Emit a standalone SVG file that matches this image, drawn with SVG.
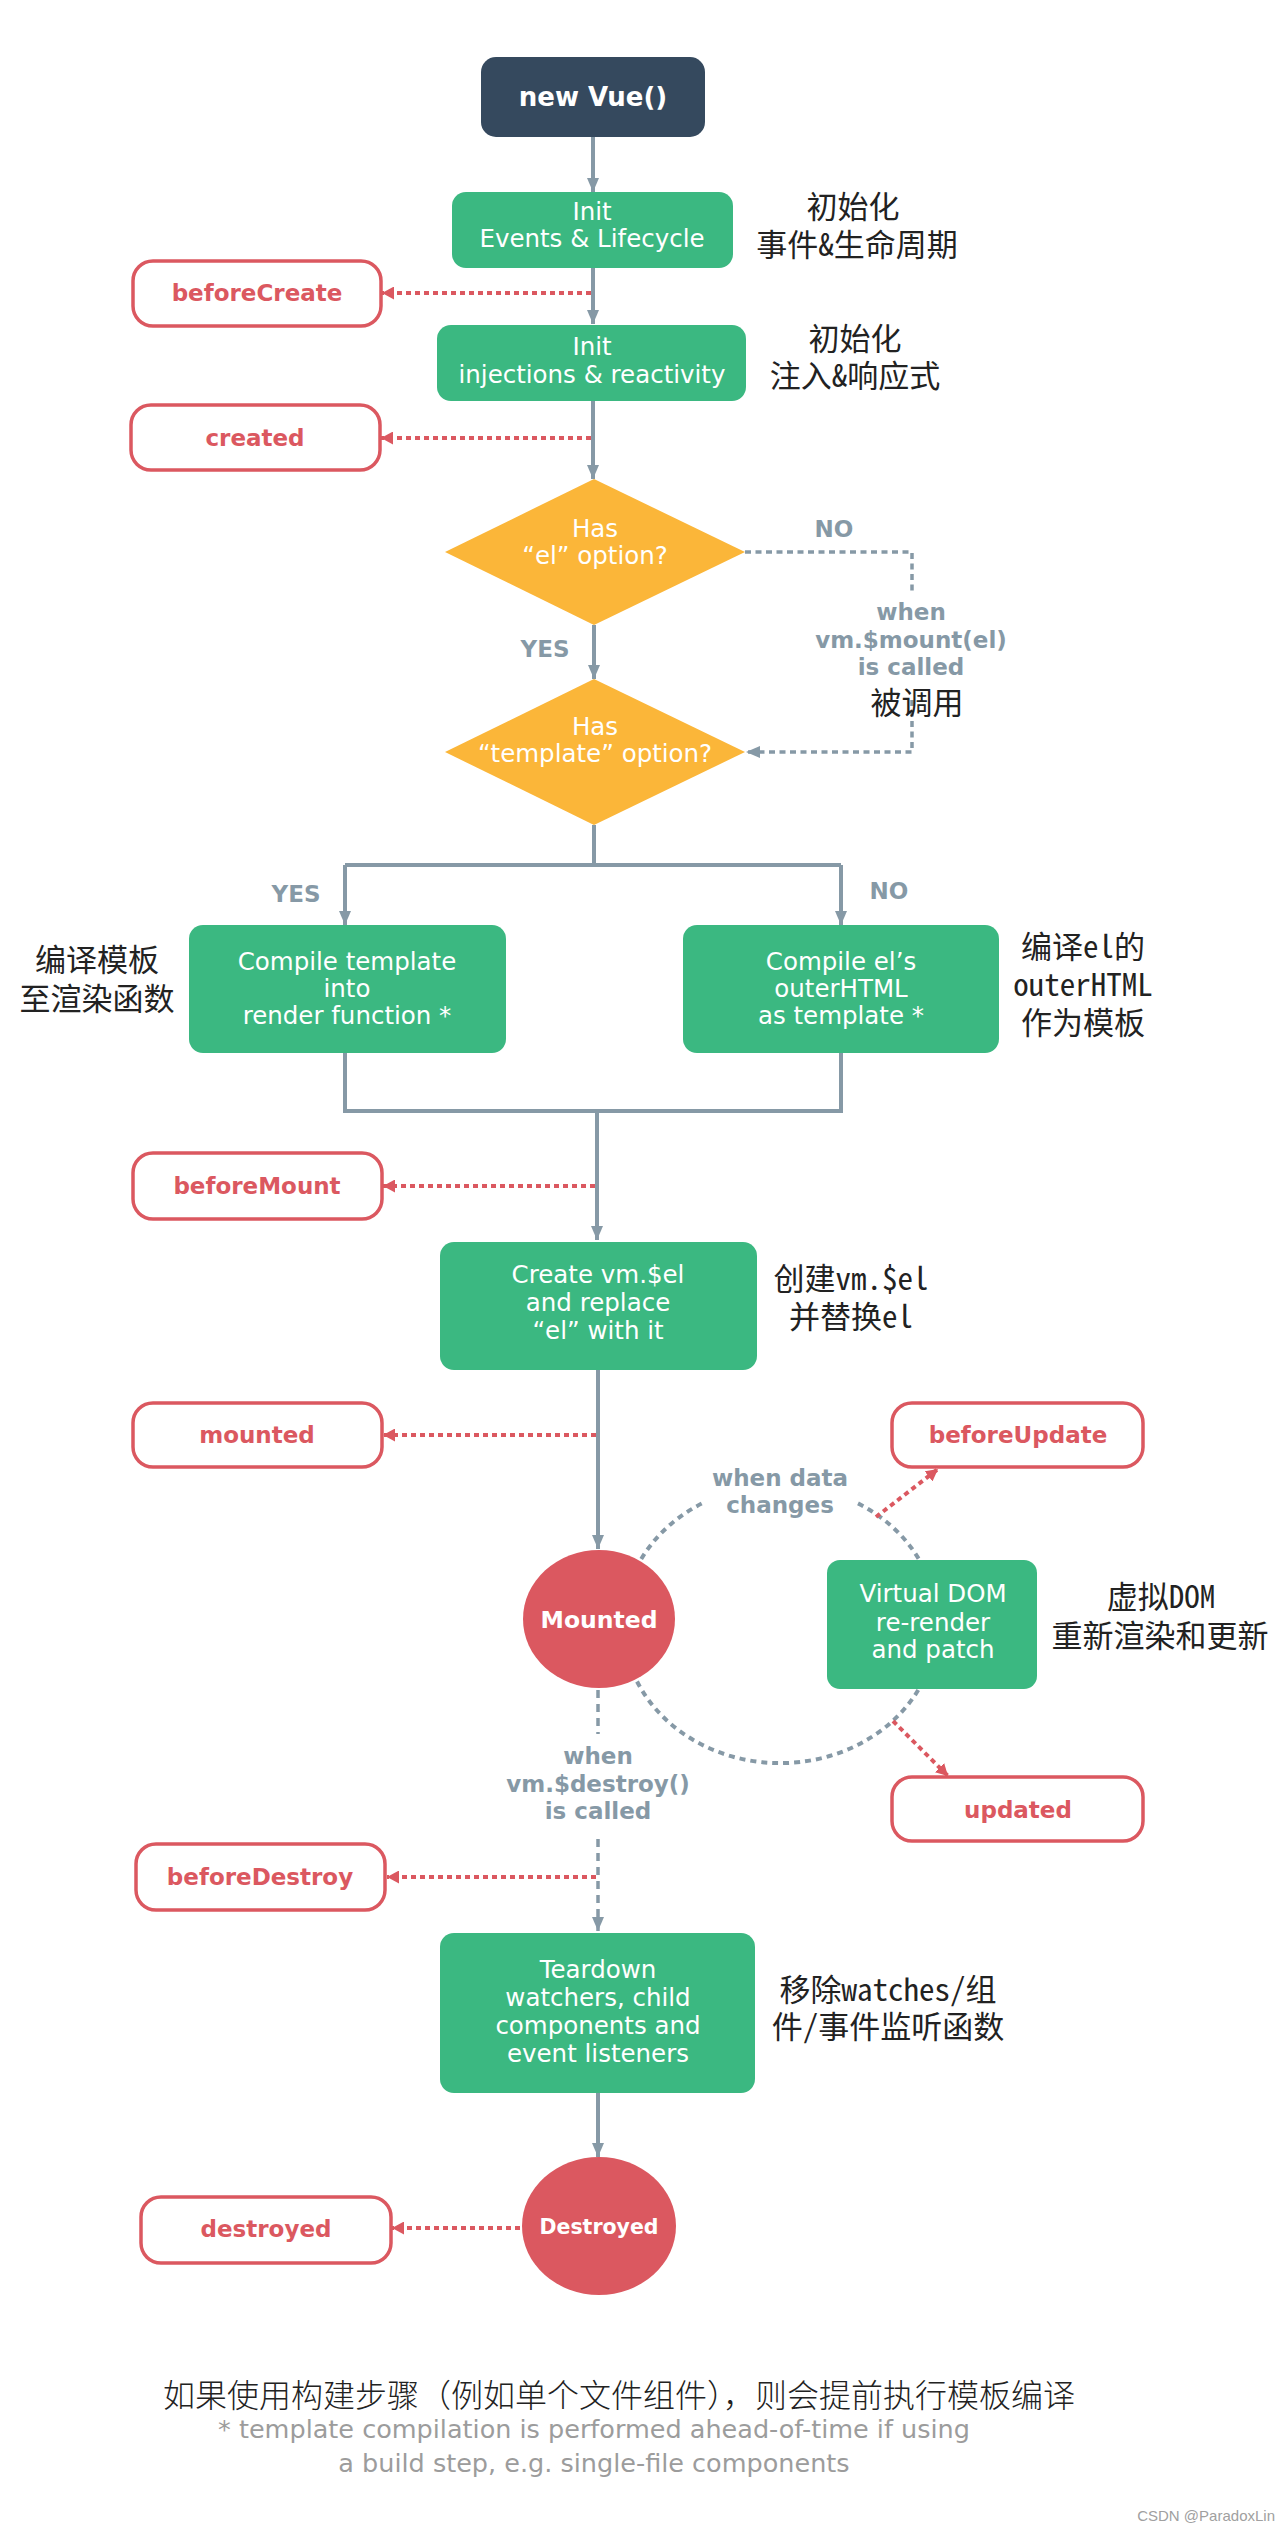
<svg xmlns="http://www.w3.org/2000/svg" width="1283" height="2526" viewBox="0 0 1283 2526">
<style>
.lbl{font-family:"DejaVu Sans","Liberation Sans",sans-serif;font-size:24.5px;fill:#ffffff;text-anchor:middle}
.hook{font-family:"DejaVu Sans","Liberation Sans",sans-serif;font-size:23px;font-weight:bold;fill:#db5860;text-anchor:middle}
.gl{font-family:"DejaVu Sans","Liberation Sans",sans-serif;font-size:23px;font-weight:bold;fill:#8699a6;text-anchor:middle}
.cn{font-family:"Noto Sans Mono CJK SC","Noto Sans CJK SC",sans-serif;font-size:31px;font-weight:300;fill:#222222;text-anchor:middle}
.foot{font-family:"DejaVu Sans","Liberation Sans",sans-serif;font-size:25.5px;fill:#9c9c9c;text-anchor:middle}
.green{fill:#3bb881}
.hookbox{fill:#ffffff;stroke:#db5860;stroke-width:3.5}
.solid{fill:none;stroke:#8699a6;stroke-width:4}
.gdot{fill:none;stroke:#8699a6;stroke-width:3.5;stroke-dasharray:6 4.5}
.gdash{fill:none;stroke:#8699a6;stroke-width:3.5;stroke-dasharray:8 6}
.loop{fill:none;stroke:#8699a6;stroke-width:4;stroke-dasharray:6 5}
.rdot{fill:none;stroke:#db5860;stroke-width:4;stroke-dasharray:5 4}
</style>
<defs>
<marker id="ag" viewBox="0 0 14 12" refX="14" refY="6" markerWidth="14" markerHeight="12" markerUnits="userSpaceOnUse" orient="auto"><path d="M0,0 L14,6 L0,12 z" fill="#8699a6"/></marker>
<marker id="ar" viewBox="0 0 12 13" refX="12" refY="6.5" markerWidth="12" markerHeight="13" markerUnits="userSpaceOnUse" orient="auto"><path d="M0,0 L12,6.5 L0,13 z" fill="#db5860"/></marker>
</defs>
<rect width="1283" height="2526" fill="#ffffff"/>

<g id="connectors">
<path class="solid" d="M593,137 V192" marker-end="url(#ag)"/>
<path class="solid" d="M593,268 V324" marker-end="url(#ag)"/>
<path class="solid" d="M593,401 V479" marker-end="url(#ag)"/>
<path class="solid" d="M594,625 V679" marker-end="url(#ag)"/>
<path class="solid" d="M594,825 V865"/>
<path class="solid" d="M345,865 H841"/>
<path class="solid" d="M345,865 V925" marker-end="url(#ag)"/>
<path class="solid" d="M841,865 V925" marker-end="url(#ag)"/>
<path class="solid" d="M345,1053 V1111 H841 V1053"/>
<path class="solid" d="M597,1111 V1240" marker-end="url(#ag)"/>
<path class="solid" d="M598,1370 V1549" marker-end="url(#ag)"/>
<path class="solid" d="M598,2093 V2157" marker-end="url(#ag)"/>
<path class="gdot" d="M745,552 H912 V592"/>
<path class="gdot" d="M912,700 V752 H746" marker-end="url(#ag)"/>
<path class="gdash" d="M598,1690 V1734"/>
<path class="gdash" d="M598,1839 V1931" marker-end="url(#ag)"/>
<path class="loop" d="M625.4,1599.8 A157,139 0 0 1 702,1503.4"/>
<path class="loop" d="M858,1503.4 A157,139 0 0 1 931.7,1588"/>
<path class="loop" d="M931.7,1660 A157,139 0 0 1 625.4,1648.2"/>
<path class="rdot" d="M876,1517 L938,1469" marker-end="url(#ar)"/>
<path class="rdot" d="M893,1721 L948,1776" marker-end="url(#ar)"/>
<path class="rdot" d="M591,293 H382" marker-end="url(#ar)"/>
<path class="rdot" d="M591,438 H381" marker-end="url(#ar)"/>
<path class="rdot" d="M595,1186 H383" marker-end="url(#ar)"/>
<path class="rdot" d="M596,1435 H383" marker-end="url(#ar)"/>
<path class="rdot" d="M596,1877 H387" marker-end="url(#ar)"/>
<path class="rdot" d="M520,2228 H392" marker-end="url(#ar)"/>
</g>

<g id="new-vue">
<rect x="481" y="57" width="224" height="80" rx="15" fill="#35495e"/>
<text class="lbl" x="593" y="106" style="font-size:26px;font-weight:bold">new Vue()</text>
</g>

<g id="init-events">
<rect class="green" x="452" y="192" width="281" height="76" rx="14"/>
<text class="lbl" x="592" y="220">Init<tspan x="592" dy="27">Events &amp; Lifecycle</tspan></text>
<text class="cn" x="853" y="218">初始化<tspan x="857" dy="38">事件&amp;生命周期</tspan></text>
</g>

<g id="beforeCreate">
<rect class="hookbox" x="133" y="261" width="248" height="65" rx="20"/>
<text class="hook" x="257" y="301">beforeCreate</text>
</g>

<g id="init-injections">
<rect class="green" x="437" y="325" width="309" height="76" rx="14"/>
<text class="lbl" x="592" y="355">Init<tspan x="592" dy="28">injections &amp; reactivity</tspan></text>
<text class="cn" x="855" y="350">初始化<tspan x="855" dy="37">注入&amp;响应式</tspan></text>
</g>

<g id="created">
<rect class="hookbox" x="131" y="405" width="249" height="65" rx="20"/>
<text class="hook" x="255" y="446">created</text>
</g>

<g id="has-el">
<polygon points="594,479 745,552 594,625 445,552" fill="#fbb639"/>
<text class="lbl" x="595" y="537">Has<tspan x="595" dy="27">“el” option?</tspan></text>
<text class="gl" x="834" y="537">NO</text>
<text class="gl" x="545" y="657">YES</text>
</g>

<g id="mount-called">
<text class="gl" x="911" y="620">when<tspan x="911" dy="28">vm.$mount(el)</tspan><tspan x="911" dy="27">is called</tspan></text>
<text class="cn" x="917" y="714">被调用</text>
</g>

<g id="has-template">
<polygon points="594,679 745,752 594,825 445,752" fill="#fbb639"/>
<text class="lbl" x="595" y="735">Has<tspan x="595" dy="27">“template” option?</tspan></text>
<text class="gl" x="296" y="902">YES</text>
<text class="gl" x="889" y="899">NO</text>
</g>

<g id="compile-template">
<rect class="green" x="189" y="925" width="317" height="128" rx="14"/>
<text class="lbl" x="347" y="970">Compile template<tspan x="347" dy="27">into</tspan><tspan x="347" dy="27">render function *</tspan></text>
<text class="cn" x="97" y="971">编译模板<tspan x="97" dy="39">至渲染函数</tspan></text>
</g>

<g id="compile-el">
<rect class="green" x="683" y="925" width="316" height="128" rx="14"/>
<text class="lbl" x="841" y="970">Compile el’s<tspan x="841" dy="27">outerHTML</tspan><tspan x="841" dy="27">as template *</tspan></text>
<text class="cn" x="1083" y="958">编译el的<tspan x="1083" dy="38">outerHTML</tspan><tspan x="1083" dy="38">作为模板</tspan></text>
</g>

<g id="beforeMount">
<rect class="hookbox" x="133" y="1153" width="249" height="66" rx="20"/>
<text class="hook" x="257" y="1194">beforeMount</text>
</g>

<g id="create-el">
<rect class="green" x="440" y="1242" width="317" height="128" rx="14"/>
<text class="lbl" x="598" y="1283">Create vm.$el<tspan x="598" dy="28">and replace</tspan><tspan x="598" dy="28">“el” with it</tspan></text>
<text class="cn" x="851" y="1290">创建vm.$el<tspan x="851" dy="38">并替换el</tspan></text>
</g>

<g id="mounted">
<rect class="hookbox" x="133" y="1403" width="249" height="64" rx="20"/>
<text class="hook" x="257" y="1443">mounted</text>
</g>

<g id="beforeUpdate">
<rect class="hookbox" x="892" y="1403" width="251" height="64" rx="20"/>
<text class="hook" x="1018" y="1443">beforeUpdate</text>
</g>

<g id="data-changes">
<text class="gl" x="780" y="1486">when data<tspan x="780" dy="27">changes</tspan></text>
</g>

<g id="mounted-state">
<ellipse cx="599" cy="1619" rx="76" ry="69" fill="#db5860"/>
<text class="lbl" x="599" y="1628" style="font-size:23.5px;font-weight:bold">Mounted</text>
</g>

<g id="virtual-dom">
<rect class="green" x="827" y="1560" width="210" height="129" rx="13"/>
<text class="lbl" x="933" y="1602">Virtual DOM<tspan x="933" dy="29">re-render</tspan><tspan x="933" dy="27">and patch</tspan></text>
<text class="cn" x="1161" y="1608">虚拟DOM<tspan x="1160" dy="39">重新渲染和更新</tspan></text>
</g>

<g id="updated">
<rect class="hookbox" x="892" y="1777" width="251" height="64" rx="20"/>
<text class="hook" x="1018" y="1818">updated</text>
</g>

<g id="destroy-called">
<text class="gl" x="598" y="1764">when<tspan x="598" dy="28">vm.$destroy()</tspan><tspan x="598" dy="27">is called</tspan></text>
</g>

<g id="beforeDestroy">
<rect class="hookbox" x="136" y="1844" width="249" height="66" rx="20"/>
<text class="hook" x="260" y="1885">beforeDestroy</text>
</g>

<g id="teardown">
<rect class="green" x="440" y="1933" width="315" height="160" rx="14"/>
<text class="lbl" x="598" y="1978">Teardown<tspan x="598" dy="28">watchers, child</tspan><tspan x="598" dy="28">components and</tspan><tspan x="598" dy="28">event listeners</tspan></text>
<text class="cn" x="888" y="2001">移除watches/组<tspan x="888" dy="37">件/事件监听函数</tspan></text>
</g>

<g id="destroyed-state">
<ellipse cx="599" cy="2226" rx="77" ry="69" fill="#db5860"/>
<text class="lbl" x="599" y="2234" style="font-size:20.5px;font-weight:bold">Destroyed</text>
</g>

<g id="destroyed">
<rect class="hookbox" x="141" y="2197" width="250" height="66" rx="20"/>
<text class="hook" x="266" y="2237">destroyed</text>
</g>

<g id="footnote">
<text x="163" y="2407" style="font-family:'Noto Sans CJK SC',sans-serif;font-size:32px;font-weight:300;fill:#222222">如果使用构建步骤（例如单个文件组件），则会提前执行模板编译</text>
<text class="foot" x="594" y="2438">* template compilation is performed ahead-of-time if using<tspan x="594" dy="34">a build step, e.g. single-file components</tspan></text>
<text x="1275" y="2521" style="font-family:'Liberation Sans',sans-serif;font-size:15px;fill:#a0a0a0;text-anchor:end">CSDN @ParadoxLin</text>
</g>
</svg>
